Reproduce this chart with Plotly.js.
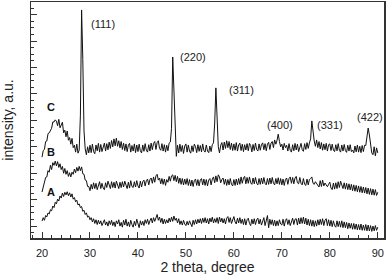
<!DOCTYPE html>
<html>
<head>
<meta charset="utf-8">
<script src="https://cdn.plot.ly/plotly-3.0.1.min.js"></script>
<style>html,body{margin:0;padding:0;background:#fff}#chart{width:392px;height:279px}</style>
</head>
<body>
<div id="chart"></div>
<script>
// 2 theta sampling grid (degrees)
const thetaStart = 20;
const thetaStep = 0.25;

// Sample A (amorphous)
const seriesA = [
1.19,1.32,1.22,1.40, 1.35,1.50,1.46,1.62, 1.58,1.76,1.70,1.90, 1.84,2.02,1.95,2.14,
2.06,2.25,2.12,2.28, 2.18,2.30,2.15,2.26, 2.10,2.22,2.02,2.08, 1.92,1.98,1.80,1.84,
1.70,1.74,1.56,1.60, 1.44,1.50,1.34,1.38, 1.24,1.32,1.16,1.28, 1.10,1.24,1.06,1.22,
1.08,1.20,1.02,1.18, 1.24,1.04,1.16,1.00, 1.20,1.06,1.22,1.02, 1.16,0.98,1.20,1.08,
1.24,1.00,1.14,0.96, 1.22,1.04,1.26,1.00, 1.16,0.98,1.22,1.06, 0.96,1.18,1.02,1.26,
1.08,0.94,1.20,1.04, 1.18,1.02,1.24,1.10, 1.26,1.06,1.20,1.30, 1.12,1.32,1.18,1.36,
1.44,1.22,1.34,1.14, 1.30,1.08,1.26,1.10, 1.24,1.12,1.30,1.16, 1.34,1.18,1.38,1.22,
1.30,1.12,1.28,1.06, 1.20,1.04,1.22,1.08, 1.02,1.18,1.04,1.20, 1.10,0.98,1.22,1.06,
1.24,1.08,1.26,1.12, 1.28,1.10,1.30,1.14, 1.32,1.12,1.28,1.08, 1.30,1.16,1.34,1.12,
1.28,1.14,1.32,1.10, 1.34,1.16,1.30,1.12, 1.28,1.08,1.30,1.36, 1.14,1.32,1.10,1.28,
1.36,1.16,1.08,1.30, 1.12,1.32,1.10,1.26, 1.06,1.28,1.04,1.24, 1.30,1.10,1.02,1.26,
1.08,1.28,1.06,1.24, 1.30,1.08,1.26,1.04, 1.24,1.32,1.02,1.22, 1.40,0.94,1.26,1.06,
1.24,1.02,1.22,1.00, 1.20,1.02,1.24,1.08, 1.04,1.26,1.00,1.22, 1.28,1.06,1.24,1.02,
1.22,1.30,1.06,1.26, 1.28,1.04,1.30,1.08, 1.32,1.10,1.34,1.08, 1.30,1.04,1.26,1.02,
1.24,1.00,1.22,0.98, 1.20,1.00,1.24,1.04, 1.26,1.06,1.28,1.02, 1.22,1.28,1.02,1.24,
1.00,1.22,0.98,1.20, 1.02,0.96,1.20,0.98, 1.18,0.96,1.20,0.94, 1.16,0.94,1.14,0.90,
1.12,0.92,1.10,0.88, 1.10,0.88,1.08,0.86, 1.06,0.86,1.08,0.84, 1.04,0.84,1.06,0.82,
1.04,0.82,1.02,0.80, 1.00,0.82,1.02,0.84, 0.96
];

// Sample B
const seriesB = [
2.29,2.50,2.60,2.84, 2.86,3.10,3.04,3.30, 3.14,3.40,3.30,3.46, 3.28,3.44,3.22,3.36,
3.14,3.26,3.00,3.18, 2.96,3.10,2.88,3.02, 2.86,3.04,2.96,3.16, 3.02,3.22,3.08,3.26,
3.10,3.24,2.98,2.96, 2.74,2.72,2.50,2.50, 2.34,2.58,2.40,2.64, 2.42,2.62,2.38,2.60,
2.68,2.42,2.62,2.44, 2.38,2.64,2.46,2.70, 2.50,2.42,2.68,2.46, 2.66,2.44,2.70,2.50,
2.42,2.66,2.46,2.68, 2.48,2.70,2.50,2.42, 2.66,2.44,2.72,2.50, 2.46,2.68,2.48,2.72,
2.52,2.44,2.70,2.48, 2.68,2.74,2.52,2.72, 2.78,2.56,2.76,2.82, 2.62,2.86,2.66,2.90,
2.96,2.74,2.82,2.60, 2.80,2.58,2.78,2.54, 2.76,2.66,2.88,2.70, 2.90,2.94,2.72,2.92,
2.68,2.88,2.62,2.82, 2.58,2.80,2.56,2.78, 2.58,2.80,2.54,2.76, 2.52,2.74,2.50,2.72,
2.78,2.54,2.76,2.52, 2.74,2.80,2.56,2.78, 2.54,2.76,2.52,2.74, 2.80,2.56,2.78,2.86,
2.64,2.90,2.68,2.94, 2.86,2.64,2.76,2.82, 2.58,2.78,2.54,2.76, 2.56,2.80,2.58,2.52,
2.76,2.54,2.78,2.56, 2.80,2.58,2.86,2.62, 2.82,2.88,2.60,2.84, 2.62,2.86,2.64,2.58,
2.82,2.60,2.84,2.62, 2.56,2.80,2.58,2.82, 2.60,2.84,2.62,2.56, 2.80,2.58,2.82,2.60,
2.84,2.62,2.56,2.80, 2.60,2.83,2.58,2.80, 2.56,2.78,2.54,2.76, 2.82,2.58,2.80,2.86,
2.62,2.84,2.60,2.82, 2.88,2.64,2.60,2.84, 2.62,2.56,2.80,2.58, 2.54,2.78,2.56,2.76,
2.80,2.86,2.62,2.58, 2.68,2.60,2.54,2.48, 2.72,2.50,2.74,2.52, 2.63,2.54,2.49,2.58,
2.66,2.44,2.38,2.63, 2.40,2.64,2.42,2.68, 2.46,2.70,2.50,2.42, 2.64,2.40,2.62,2.38,
2.60,2.37,2.58,2.34, 2.56,2.32,2.54,2.30, 2.52,2.28,2.50,2.26, 2.48,2.25,2.46,2.22,
2.44,2.20,2.42,2.18, 2.40,2.17,2.38,2.16, 2.28
];

// Sample C (crystalline)
const seriesC = [
3.61,3.86,3.90,4.20, 4.22,4.50,4.53,4.63, 4.70,4.94,4.94,5.02, 4.97,4.80,5.04,4.72,
4.80,4.93,4.53,4.63, 4.38,4.60,4.25,4.35, 4.10,4.32,3.97,4.06, 3.80,4.10,3.76,3.88,
5.20,9.18,7.30,4.60, 3.92,3.70,4.00,3.77, 4.06,3.78,4.10,3.82, 3.74,4.07,3.85,4.13,
3.80,4.09,3.82,4.04, 4.14,3.84,4.12,3.89, 4.18,3.94,4.24,4.00, 4.30,4.04,4.33,4.02,
4.23,3.96,4.20,3.90, 4.14,3.86,4.11,3.82, 4.06,4.13,3.80,4.05, 3.84,4.11,3.78,4.07,
3.82,4.10,3.85,3.77, 4.07,3.83,4.12,3.87, 3.80,4.08,3.84,4.14, 3.89,4.13,4.20,3.90,
4.16,4.23,3.94,3.87, 4.12,3.84,4.08,3.80, 4.06,3.85,4.14,4.18, 4.70,7.40,5.90,4.25,
3.64,4.06,3.77,4.10, 3.82,4.05,3.75,4.03, 4.11,3.80,4.07,3.84, 3.76,4.04,3.82,4.10,
4.01,3.78,4.08,3.83, 4.05,3.81,4.11,3.86, 3.80,4.07,3.84,3.78, 4.03,3.82,4.08,4.15,
4.90,6.23,4.80,4.00, 3.77,4.06,4.16,3.88, 4.18,3.94,4.23,3.97, 4.20,3.90,4.14,3.86,
4.11,3.87,4.16,3.84, 4.07,4.14,3.86,4.10, 3.82,4.08,3.88,4.12, 3.85,4.13,4.05,3.81,
4.09,3.86,4.14,3.90, 3.84,4.11,3.87,4.08, 4.15,3.89,4.12,3.85, 4.10,4.17,3.90,4.14,
4.20,3.97,4.26,4.10, 4.25,4.48,4.20,4.00, 4.10,3.88,4.13,3.97, 4.06,3.84,4.12,3.87,
3.80,4.08,3.85,4.13, 3.88,4.10,3.82,4.02, 4.13,3.89,3.83,4.12, 3.90,4.16,3.94,4.15,
4.30,4.98,4.55,4.22, 4.02,4.26,3.97,4.20, 3.92,4.16,3.87,4.11, 3.89,4.13,3.84,4.08,
4.11,3.86,4.10,3.88, 3.82,4.08,3.85,4.12, 3.87,3.80,4.07,3.84, 4.09,3.86,3.79,4.06,
3.84,4.08,3.82,3.88, 3.77,4.03,3.81,4.07, 3.80,4.02,3.78,4.05, 3.82,4.06,4.05,4.35,
4.71,4.45,4.05,3.77, 3.70,4.00,3.66,3.96, 3.77
];

const seriesNames = ['A', 'B', 'C'];
const peakLabels = ['(111)', '(220)', '(311)', '(400)', '(331)', '(422)'];
const xTickValues = [20, 30, 40, 50, 60, 70, 80, 90];

function grid(n) {
  const out = [];
  for (let i = 0; i < n; i++) out.push(+(thetaStart + i * thetaStep).toFixed(2));
  return out;
}

const lineStyle = {color: '#111', width: 1};
const traces = [seriesA, seriesB, seriesC].map((ys, k) => ({
  x: grid(ys.length), y: ys, name: seriesNames[k], type: 'scatter', mode: 'lines',
  line: lineStyle, hoverinfo: 'skip'
}));

const labelFont = {family: 'Liberation Sans, Arial, sans-serif', size: 11, color: '#222'};
const letterFont = {family: 'Liberation Sans, Arial, sans-serif', size: 11, color: '#111', weight: 'bold'};

// label anchor positions in data coordinates
const peakPos = [[32.7, 8.65], [51.5, 7.40], [61.5, 6.15], [69.6, 4.83], [80.0, 4.83], [88.3, 5.13]];
const letterPos = [[21.9, 2.29], [21.9, 3.80], [21.9, 5.51]];

const annotations = [];
peakLabels.forEach((t, i) => annotations.push({
  x: peakPos[i][0], y: peakPos[i][1], xref: 'x', yref: 'y', text: t, showarrow: false,
  font: labelFont, xanchor: 'center', yanchor: 'middle'
}));
seriesNames.forEach((t, i) => annotations.push({
  x: letterPos[i][0], y: letterPos[i][1], xref: 'x', yref: 'y', text: '<b>' + t + '</b>', showarrow: false,
  font: letterFont, xanchor: 'center', yanchor: 'middle'
}));

const axisColor = '#333';
const layout = {
  width: 392, height: 279,
  margin: {l: 31, r: 8, t: 2, b: 41, pad: 0},
  paper_bgcolor: '#fff', plot_bgcolor: '#fff',
  showlegend: false,
  font: {family: 'Liberation Sans, Arial, sans-serif', color: '#222'},
  xaxis: {
    range: [17.7, 91.3], tickvals: xTickValues, ticktext: xTickValues.map(String),
    ticks: 'inside', ticklen: 6, tickwidth: 1, tickcolor: axisColor,
    minor: {dtick: 2, tick0: 0, ticks: 'inside', ticklen: 3, tickwidth: 1, tickcolor: axisColor},
    showline: true, linecolor: axisColor, linewidth: 1.5, mirror: true,
    showgrid: false, zeroline: false,
    ticklabelstandoff: 4,
    tickfont: {size: 11, color: '#222'},
    title: {text: '2 theta, degree', font: {size: 14, color: '#222'}, standoff: 3}
  },
  yaxis: {
    range: [0.55, 9.48], tick0: 0, dtick: 1,
    ticks: 'inside', ticklen: 6, tickwidth: 1, tickcolor: axisColor,
    minor: {dtick: 0.25, tick0: 0, ticks: 'inside', ticklen: 3, tickwidth: 1, tickcolor: axisColor},
    showticklabels: false,
    showline: true, linecolor: axisColor, linewidth: 1.5, mirror: true,
    showgrid: false, zeroline: false,
    title: {text: 'intensity, a.u.', font: {size: 14, color: '#222'}, standoff: 12}
  },
  annotations: annotations
};

Plotly.newPlot('chart', traces, layout, {displayModeBar: false, staticPlot: true});
</script>
</body>
</html>
